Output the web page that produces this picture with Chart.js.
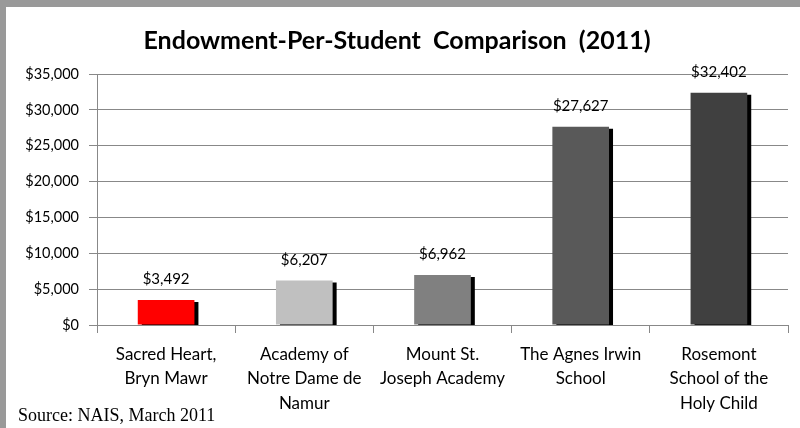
<!DOCTYPE html>
<html>
<head>
<meta charset="utf-8">
<script src="https://cdn.jsdelivr.net/npm/chart.js@4.4.1/dist/chart.umd.min.js"></script>
<style>
    html, body { margin: 0; padding: 0; background: #999999; }
    #wrap { position: absolute; left: 6px; top: 7px; width: 794px; height: 421px; background: #ffffff; }
</style>
</head>
<body>
<div id="wrap"><canvas id="endowChart" width="794" height="421"></canvas></div>
<script>
// Datos
const schools = [
    ['Sacred Heart,', 'Bryn Mawr'],
    ['Academy of', 'Notre Dame de', 'Namur'],
    ['Mount St.', 'Joseph Academy'],
    ['The Agnes Irwin', 'School'],
    ['Rosemont', 'School of the', 'Holy Child']
];
const endowment = [3492, 6207, 6962, 27627, 32402];
const barColors = ['#FF0000', '#C0C0C0', '#808080', '#595959', '#404040'];
const yTicks = [0, 5000, 10000, 15000, 20000, 25000, 30000, 35000];

const money = v => '$' + v.toLocaleString('en-US');

// Sombra negra detras de cada barra + etiquetas de valor
const barShadow = {
    id: 'barShadow',
    beforeDatasetsDraw(chart) {
        const ctx = chart.ctx;
        ctx.save();
        ctx.shadowColor = '#000000';
        ctx.shadowBlur = 0;
        ctx.shadowOffsetX = 4;
        ctx.shadowOffsetY = 2;
    },
    afterDatasetsDraw(chart) {
        const ctx = chart.ctx;
        ctx.restore();
        ctx.save();
        ctx.font = '15px Lato';
        ctx.fillStyle = '#000000';
        ctx.textAlign = 'center';
        ctx.textBaseline = 'bottom';
        chart.getDatasetMeta(0).data.forEach((bar, i) => {
            ctx.fillText(money(endowment[i]), bar.x, bar.y - 13);
        });
        ctx.restore();
    }
};

// Texto de la fuente abajo a la izquierda
const sourceNote = {
    id: 'sourceNote',
    afterDraw(chart) {
        const ctx = chart.ctx;
        ctx.save();
        ctx.font = '18px "Liberation Serif"';
        ctx.fillStyle = '#000000';
        ctx.textAlign = 'left';
        ctx.textBaseline = 'alphabetic';
        ctx.fillText('Source: NAIS, March 2011', 12, 414);
        ctx.restore();
    }
};

new Chart(document.getElementById('endowChart').getContext('2d'), {
    type: 'bar',
    data: {
        labels: schools,
        datasets: [{
            data: endowment,
            backgroundColor: barColors,
            borderWidth: 0,
            categoryPercentage: 1.0,
            barPercentage: 0.41
        }]
    },
    options: {
        responsive: false,
        animation: false,
        layout: { padding: { left: 0, right: 12, top: 0, bottom: 0 } },
        plugins: {
            legend: { display: false },
            tooltip: { enabled: false },
            title: {
                display: true,
                text: 'Endowment-Per-Student  Comparison  (2011)',
                color: '#000000',
                font: { family: 'Lato', size: 25, weight: 'bold', lineHeight: 1.2 },
                padding: { top: 19, bottom: 18 }
            }
        },
        scales: {
            y: {
                min: 0,
                max: 35000,
                afterFit(scale) { scale.width = 91; },
                afterBuildTicks(scale) { scale.ticks = yTicks.map(v => ({ value: v })); },
                border: { display: true, color: '#888888', width: 1 },
                grid: { color: '#888888', lineWidth: 1, tickLength: 8, drawTicks: true },
                ticks: {
                    color: '#000000',
                    padding: 10,
                    font: { family: 'Lato', size: 14.5 },
                    callback: v => money(v)
                }
            },
            x: {
                afterFit(scale) { scale.height = 103; },
                border: { display: true, color: '#888888', width: 1 },
                grid: { offset: true, drawOnChartArea: false, color: '#888888', tickLength: 8 },
                ticks: {
                    color: '#000000',
                    padding: 9,
                    maxRotation: 0,
                    autoSkip: false,
                    font: { family: 'Lato', size: 17, lineHeight: 1.45 }
                }
            }
        }
    },
    plugins: [barShadow, sourceNote]
});
</script>
</body>
</html>
